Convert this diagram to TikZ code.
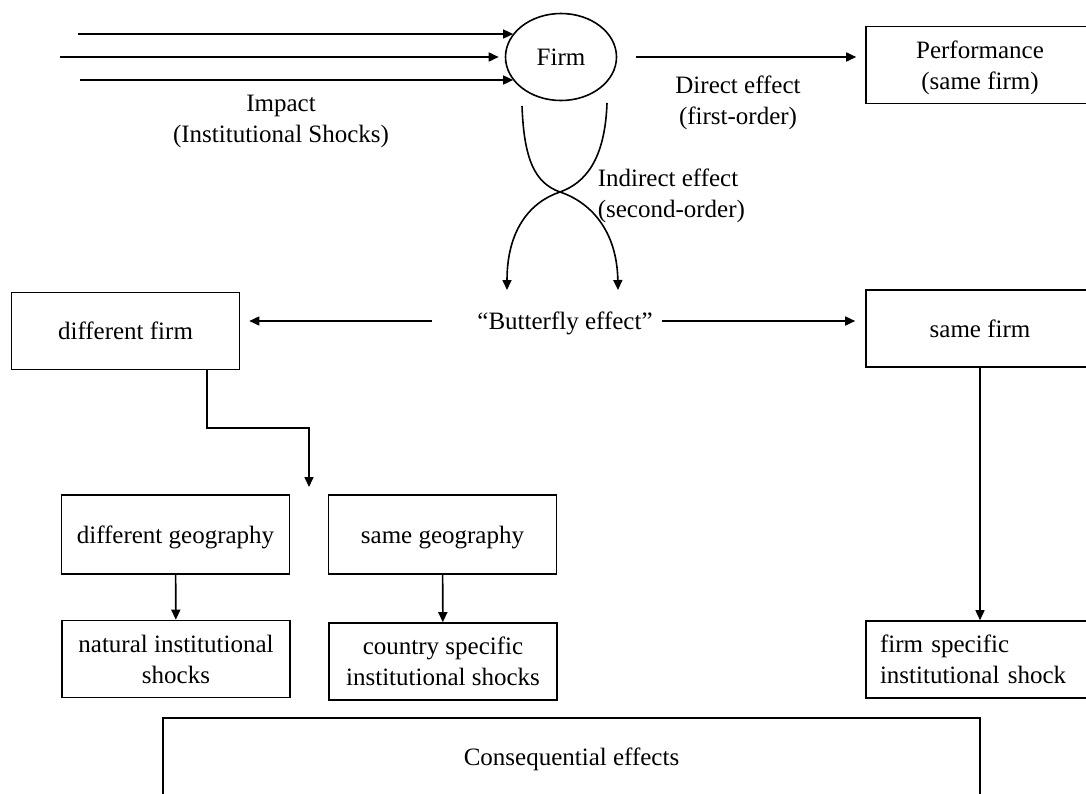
\documentclass[tikz,border=0pt]{standalone}
\usepackage{fontspec}
\setmainfont{Liberation Serif}
\usetikzlibrary{shapes.geometric,arrows.meta}

\begin{document}
\begin{tikzpicture}%
	[x=1pt, y=-1pt,
	font=\fontsize{25}{31}\selectfont,
	line width=1.6pt,
	box/.style={draw, rectangle, inner sep=0pt, minimum width=228pt, minimum height=77pt, align=center, text depth=0pt},
	firmnode/.style={draw, ellipse, inner sep=0pt, minimum width=111pt, minimum height=87pt},
	effecttext/.style={align=center, inner sep=0pt, text depth=0pt},
	arr/.style={-{Triangle[length=10pt,width=9pt]}}]
%
\clip (0,0) rectangle (1086,793);
%%
%% Drawing the nodes
%%
\node[firmnode] (firm) at (561,57) {Firm};
\node[box, text depth=-4pt] (perf) at (980,65) {Performance\\(same firm)};
\node[effecttext] (direct) at (738,100) {Direct effect\\(first-order)};
\node[effecttext] (impact) at (281,119) {Impact\\(Institutional Shocks)};
\node[effecttext, align=left, anchor=west] (indirect) at (597,193) {Indirect effect\\(second-order)};
\node[effecttext] (butterfly) at (565,321) {“Butterfly effect”};
\node[box] (difffirm) at (125.5,331) {different firm};
\node[box] (samefirm) at (980,328.5) {same firm};
\node[box, minimum height=79pt] (diffgeo) at (175.5,534.5) {different geography};
\node[box, minimum height=79pt] (samegeo) at (442.5,534.5) {same geography};
\node[box] (natural) at (176,659) {natural institutional\\shocks};
\node[box] (country) at (443,661.5) {country specific\\institutional shocks};
\node[box, align=left, text width=200pt, inner xsep=14pt, text depth=] (firmspec) at (980,659.5) {firm specific\\institutional shock};
\node[box, minimum width=817pt, minimum height=78pt] (conseq) at (571.5,757) {Consequential effects};
%%
%% Free ends
%%
\coordinate (in1) at (78,34);
\coordinate (in2) at (60,57);
\coordinate (in3) at (80,80);
\coordinate (ul) at (522,106);
\coordinate (ur) at (607,103);
\coordinate (cross) at (560,192);
\coordinate (ll) at (507,290);
\coordinate (lr) at (618,290);
\coordinate (elbow) at (207,428);
\coordinate (split) at (309,487);
%%
%% Drawing the connectors
%%
\draw[arr] (in1) -- (in1 -| firm.154);
\draw[arr, shorten >=6pt] (in2) -- (firm.west);
\draw[arr] (in3) -- (in3 -| firm.206);
\draw[arr, shorten <=19pt, shorten >=9pt] (firm.east) -- (firm.east -| perf.west);

\draw[arr] (ul) .. controls (524,160) and (535,183) .. (cross) .. controls (590,202) and (617,230) .. (lr);
\draw[arr] (ur) .. controls (605,160) and (585,183) .. (cross) .. controls (530,202) and (507,230) .. (ll);

\draw[arr, shorten <=45pt, shorten >=9pt] (butterfly.west) -- (butterfly.west -| difffirm.east);
\draw[arr, shorten <=9pt, shorten >=10pt] (butterfly.east) -- (butterfly.east -| samefirm.west);

\draw[arr] (elbow |- difffirm.south) -- (elbow) -| (split);
\draw[arr] (diffgeo) -- (natural);
\draw[arr] (samegeo) -- (country);
\draw[arr] (samefirm) -- (firmspec);

\end{tikzpicture}
\end{document}
